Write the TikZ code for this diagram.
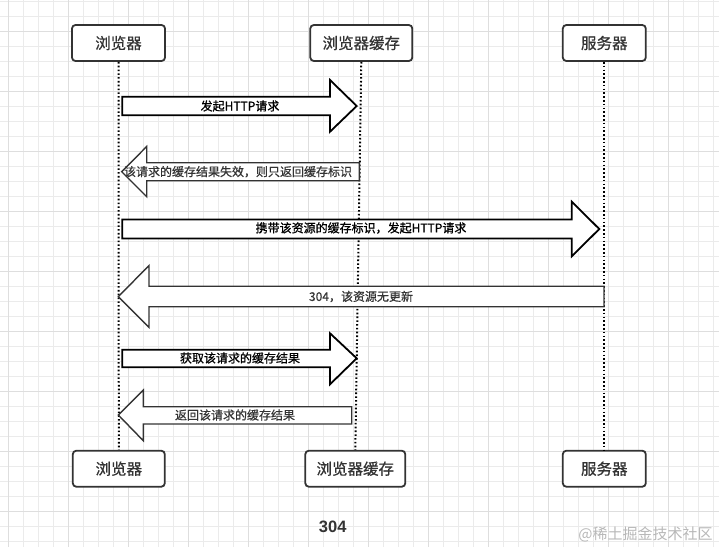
\documentclass[tikz,border=0pt]{standalone}
\usepackage{fontspec}
\setmainfont{Liberation Sans}
\newfontfamily\cjk{Noto Sans CJK SC}
\newfontfamily\cjkm[FakeBold=0.6]{Noto Sans CJK SC}
\newfontfamily\cjkb[FakeBold=0.9]{Noto Sans CJK SC}
\definecolor{gridminor}{HTML}{EBEBEB}
\definecolor{gridmajor}{HTML}{DEDEDE}
\definecolor{darkg}{HTML}{333333}
\definecolor{wmark}{HTML}{B8B8B8}
\tikzset{
  actorbox/.style={draw=darkg, line width=1.8pt, rounded corners=3.5pt, fill=white, minimum height=36pt, inner sep=0pt, font=\cjkm\fontsize{15.5}{18}\selectfont, text=darkg},
  lifeline/.style={line width=2pt, dash pattern=on 1.6pt off 2.2pt, black},
  blockfwd/.style={draw=black, line width=1.8pt, fill=white, line join=miter},
  blockback/.style={draw=darkg, line width=1.4pt, fill=white, line join=miter},
  fwdlabel/.style={font=\cjkb\fontsize{12}{14}\selectfont, text=black, inner sep=0pt},
  backlabel/.style={font=\cjkm\fontsize{12}{14}\selectfont, text=darkg, inner sep=0pt},
}
\begin{document}
\begin{tikzpicture}[x=1pt, y=-1pt]
\useasboundingbox (0,0) rectangle (719,547);
\fill[white] (0,0) rectangle (719,547);
% grid
\foreach \i in {0,...,47} {
  \draw[gridminor, line width=0.8pt] (8.3+15*\i,0) -- (8.3+15*\i,547);
}
\foreach \j in {0,...,36} {
  \draw[gridminor, line width=0.8pt] (0,1.7+15*\j) -- (719,1.7+15*\j);
}
\foreach \i in {0,...,11} {
  \draw[gridmajor, line width=0.8pt] (8.3+60*\i,0) -- (8.3+60*\i,547);
}
\foreach \j in {0,...,9} {
  \draw[gridmajor, line width=0.8pt] (0,31.7+60*\j) -- (719,31.7+60*\j);
}

% actor boxes
\node[actorbox, minimum width=93pt] (bt) at (118.5,43) {浏览器};
\node[actorbox, minimum width=102pt] (ct) at (361.3,43) {浏览器缓存};
\node[actorbox, minimum width=83pt] (st) at (604.3,43) {服务器};
\node[actorbox, minimum width=92pt] (bb) at (118.8,468.7) {浏览器};
\node[actorbox, minimum width=100pt] (cb) at (355.3,468.7) {浏览器缓存};
\node[actorbox, minimum width=83pt] (sb) at (604.3,468.7) {服务器};

% lifelines
\draw[lifeline] (bt.south) -- (bb.north);
\draw[lifeline] (ct.south) -- (cb.north);
\draw[lifeline] (st.south) -- (sb.north);

% block arrows
% 1 right
\draw[blockfwd] (122.3,96.8) -- (330,96.8) -- (330,80) -- (356.7,106) -- (330,131.7) -- (330,115.2) -- (122.3,115.2) -- cycle;
\node[fwdlabel] (l1) at (240,106) {发起HTTP请求};
% 2 left
\draw[blockback] (359.3,162.7) -- (146.7,162.7) -- (146.7,146.5) -- (121.7,171.7) -- (146.7,196.7) -- (146.7,180.7) -- (359.3,180.7) -- cycle;
\node[backlabel] (l2) at (238,171.7) {该请求的缓存结果失效，则只返回缓存标识};
% 3 right
\draw[blockfwd] (122.3,219.5) -- (571.7,219.5) -- (571.7,201.7) -- (599.3,229) -- (571.7,256.3) -- (571.7,238.5) -- (122.3,238.5) -- cycle;
\node[fwdlabel] (l3) at (361,228) {携带该资源的缓存标识，发起HTTP请求};
% 4 left
\draw[blockback] (604,286.2) -- (149,286.2) -- (149,265.5) -- (118.3,296.7) -- (149,327.3) -- (149,306.7) -- (604,306.7) -- cycle;
\node[backlabel] (l4) at (361,296.5) {304，该资源无更新};
% 5 right
\draw[blockfwd] (122.3,349.8) -- (330,349.8) -- (330,333.3) -- (356.7,358.3) -- (330,384.3) -- (330,367.3) -- (122.3,367.3) -- cycle;
\node[fwdlabel] (l5) at (240,358) {获取该请求的缓存结果};
% 6 left
\draw[blockback] (351.7,406.7) -- (143.3,406.7) -- (143.3,390) -- (118.3,415) -- (143.3,440.7) -- (143.3,424) -- (351.7,424) -- cycle;
\node[backlabel] (l6) at (235,415) {返回该请求的缓存结果};

% caption
\node[font=\bfseries\fontsize{16.5}{19}\selectfont, text=darkg, inner sep=0pt] (cap) at (332.7,526.5) {304};
% watermark
\node[font=\cjk\fontsize{15}{18}\selectfont, text=wmark, inner sep=0pt] (wm) at (645.5,534.3) {@稀土掘金技术社区};
\end{tikzpicture}
\end{document}
